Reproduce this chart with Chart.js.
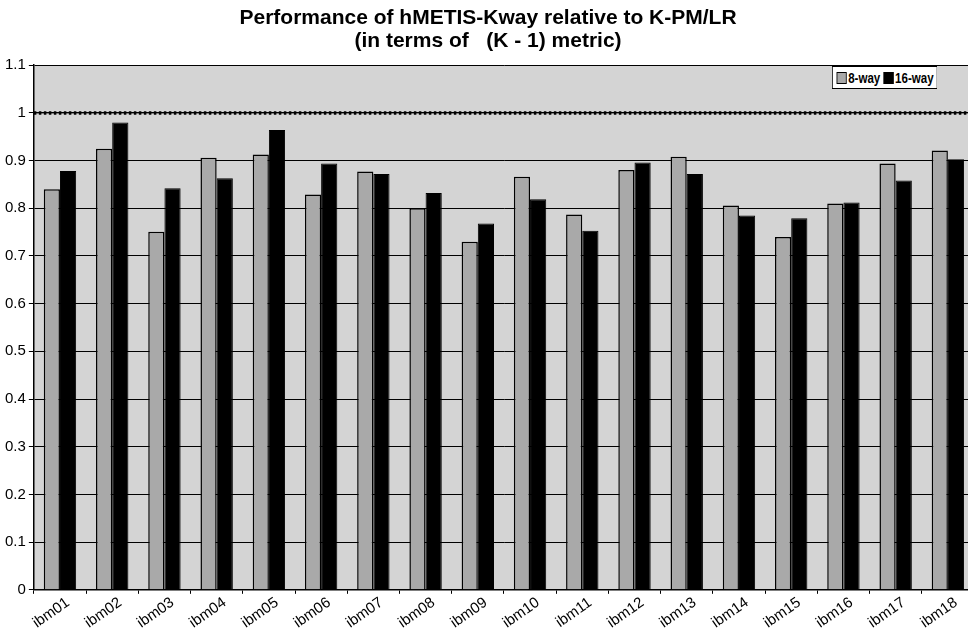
<!DOCTYPE html>
<html>
<head>
<meta charset="utf-8">
<script src="https://cdn.jsdelivr.net/npm/chart.js@4.4.0/dist/chart.umd.min.js"></script>
<style>
    html, body { margin: 0; padding: 0; background: #fff; overflow: hidden; }
    #wrap { position: relative; width: 974px; height: 632px; }
    #legend {
        position: absolute; left: 832px; top: 66px;
        background: #fff; border: 1px solid #000;
        font: bold 15px "Liberation Sans", Arial, sans-serif;
        padding: 2px 4px 2px 5px; white-space: nowrap; color: #000;
        transform: scaleX(0.77); transform-origin: left top;
    }
    #legend span.sw {
        display: inline-block; width: 11px; height: 10px; border: 1px solid #000;
        margin-right: 2px; vertical-align: -1px;
    }
</style>
</head>
<body>
<div id="wrap">
    <canvas id="perfChart"></canvas>
    <div id="legend">
        <span class="sw" style="background:#a9a9a9"></span>8-way
        <span class="sw" style="background:#000;margin-left:0px"></span>16-way
    </div>
</div>
<script>
(function () {
    // data
    const circuits = ['ibm01', 'ibm02', 'ibm03', 'ibm04', 'ibm05', 'ibm06', 'ibm07', 'ibm08', 'ibm09',
                      'ibm10', 'ibm11', 'ibm12', 'ibm13', 'ibm14', 'ibm15', 'ibm16', 'ibm17', 'ibm18'];
    const way8  = [0.840, 0.925, 0.751, 0.906, 0.913, 0.829, 0.877, 0.800, 0.730,
                   0.866, 0.787, 0.880, 0.908, 0.806, 0.740, 0.810, 0.894, 0.921];
    const way16 = [0.878, 0.980, 0.842, 0.863, 0.964, 0.894, 0.872, 0.832, 0.768,
                   0.819, 0.753, 0.896, 0.872, 0.785, 0.779, 0.812, 0.858, 0.903];
    const refValue = 1;
    const titleLines = ['Performance of hMETIS-Kway relative to K-PM/LR', '(in terms of   (K - 1) metric)'];

    const fontFamily = '"Liberation Sans", Arial, sans-serif';

    // grey plot background + dotted line at 1
    const plotDecor = {
        id: 'plotDecor',
        beforeDraw(chart) {
            const { ctx, chartArea: a } = chart;
            ctx.save();
            ctx.fillStyle = '#d4d4d4';
            ctx.fillRect(a.left, a.top, a.right - a.left, a.bottom - a.top);
            ctx.restore();
        },
        afterDatasetsDraw(chart) {
            const { ctx, chartArea: a } = chart;
            const y = chart.scales.y.getPixelForValue(refValue);
            ctx.save();
            ctx.strokeStyle = '#000';
            ctx.lineWidth = 1;
            ctx.beginPath();
            ctx.moveTo(a.left, y);
            ctx.lineTo(a.right, y);
            ctx.stroke();
            ctx.lineWidth = 3.5;
            ctx.setLineDash([2.5, 2.5]);
            ctx.beginPath();
            ctx.moveTo(a.left, y);
            ctx.lineTo(a.right, y);
            ctx.stroke();
            ctx.restore();
        }
    };

    new Chart(document.getElementById('perfChart'), {
        type: 'bar',
        data: {
            labels: circuits,
            datasets: [
                {
                    label: '8-way',
                    data: way8,
                    backgroundColor: '#a9a9a9',
                    borderColor: '#000',
                    borderWidth: 1.5,
                    borderSkipped: 'bottom'
                },
                {
                    label: '16-way',
                    data: way16,
                    backgroundColor: '#000',
                    borderColor: '#000',
                    borderWidth: 1
                }
            ]
        },
        options: {
            responsive: true,
            maintainAspectRatio: false,
            animation: false,
            datasets: { bar: { categoryPercentage: 0.62, barPercentage: 1.0 } },
            layout: { padding: { left: 2, right: 0, top: 0, bottom: 0 } },
            plugins: {
                legend: { display: false },
                tooltip: { enabled: false },
                title: {
                    display: true,
                    text: titleLines,
                    color: '#000',
                    font: { family: fontFamily, size: 21, weight: 'bold', lineHeight: 1.1 },
                    padding: { top: 7, bottom: 12 }
                }
            },
            scales: {
                x: {
                    grid: { display: true, drawOnChartArea: false, offset: true, color: '#000', tickLength: 4 },
                    border: { display: true, color: '#000', width: 1.5 },
                    ticks: {
                        color: '#000',
                        font: { family: fontFamily, size: 15 },
                        autoSkip: false,
                        maxRotation: 35,
                        minRotation: 35,
                        labelOffset: 8,
                        padding: 0
                    }
                },
                y: {
                    min: 0,
                    max: 1.1,
                    grid: { color: '#000', lineWidth: 1, tickLength: 5 },
                    border: { display: true, color: '#000', width: 1.5 },
                    ticks: {
                        stepSize: 0.1,
                        color: '#000',
                        font: { family: fontFamily, size: 15 },
                        padding: 3,
                        callback: v => String(Number(v.toFixed(1)))
                    }
                }
            }
        },
        plugins: [plotDecor]
    });
})();
</script>
</body>
</html>
